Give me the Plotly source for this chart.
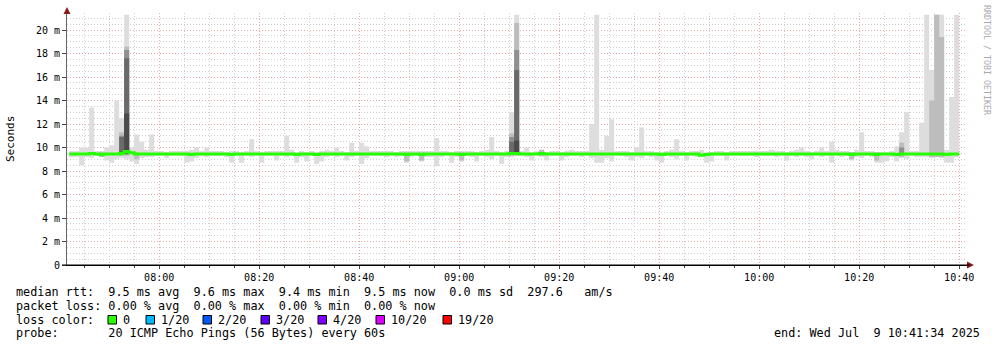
import plotly.graph_objects as go
from datetime import datetime, timedelta

# ---------------- data ----------------
first_minute = datetime(2025, 7, 9, 7, 42)      # first 60 s step starts here
range_start = "2025-07-09 07:41:34"
range_end = "2025-07-09 10:41:34"

# median rtt per minute (ms)
median = [
    9.45, 9.45, 9.45, 9.45, 9.5, 9.45, 9.4, 9.45, 9.45, 9.45,
    9.5, 9.65, 9.55, 9.45, 9.45, 9.45, 9.45, 9.45, 9.45, 9.45,
    9.45, 9.45, 9.45, 9.45, 9.4, 9.45, 9.45, 9.45, 9.45, 9.45,
    9.45, 9.45, 9.4, 9.45, 9.45, 9.45, 9.45, 9.45, 9.45, 9.45,
    9.45, 9.45, 9.45, 9.45, 9.45, 9.4, 9.45, 9.45, 9.45, 9.4,
    9.45, 9.45, 9.45, 9.45, 9.45, 9.45, 9.45, 9.45, 9.45, 9.45,
    9.45, 9.45, 9.45, 9.45, 9.45, 9.45, 9.45, 9.4, 9.45, 9.45,
    9.4, 9.45, 9.45, 9.45, 9.45, 9.45, 9.45, 9.45, 9.4, 9.45,
    9.45, 9.45, 9.45, 9.45, 9.45, 9.45, 9.45, 9.45, 9.5, 9.5,
    9.45, 9.45, 9.45, 9.45, 9.5, 9.45, 9.45, 9.45, 9.45, 9.45,
    9.45, 9.45, 9.45, 9.45, 9.45, 9.45, 9.45, 9.45, 9.45, 9.45,
    9.45, 9.45, 9.45, 9.45, 9.45, 9.45, 9.45, 9.45, 9.4, 9.45,
    9.45, 9.45, 9.45, 9.45, 9.45, 9.45, 9.35, 9.4, 9.45, 9.45,
    9.45, 9.45, 9.45, 9.45, 9.45, 9.45, 9.45, 9.45, 9.45, 9.45,
    9.45, 9.45, 9.45, 9.45, 9.45, 9.45, 9.45, 9.45, 9.45, 9.45,
    9.45, 9.45, 9.45, 9.45, 9.45, 9.45, 9.4, 9.45, 9.45, 9.45,
    9.45, 9.4, 9.45, 9.45, 9.45, 9.4, 9.45, 9.45, 9.45, 9.45,
    9.45, 9.45, 9.45, 9.45, 9.45, 9.4, 9.45, 9.45,
]

# outer smoke (min .. max of the 20 pings)
smoke_hi = [
    9.7, 9.7, 10.0, 10.0, 13.4, 9.7, 9.7, 10.0, 10.2, 14.0,
    12.5, 21.3, 10.0, 11.1, 10.5, 9.8, 11.1, 9.7, 9.7, 9.6,
    9.7, 9.7, 9.7, 9.7, 9.8, 10.0, 9.7, 10.0, 9.7, 9.7,
    9.7, 9.6, 9.7, 9.7, 9.6, 9.7, 10.7, 9.7, 9.6, 9.7,
    9.7, 9.7, 9.7, 11.0, 9.8, 9.6, 9.7, 9.6, 9.7, 9.6,
    9.7, 9.8, 9.7, 10.0, 9.7, 9.6, 10.4, 9.7, 10.4, 10.1,
    9.7, 9.7, 9.7, 9.7, 9.7, 9.6, 9.7, 9.7, 9.7, 9.7,
    9.7, 9.7, 9.7, 10.8, 9.7, 9.7, 9.6, 9.7, 9.7, 9.7,
    9.7, 9.6, 9.7, 9.8, 10.9, 9.7, 9.6, 9.7, 13.0, 21.3,
    9.7, 10.0, 9.6, 9.7, 9.7, 9.6, 9.7, 9.7, 9.6, 9.7,
    9.8, 9.7, 9.7, 9.7, 12.0, 21.3, 9.8, 11.0, 12.4, 9.7,
    9.7, 9.7, 9.6, 10.0, 11.7, 9.7, 9.7, 9.6, 9.6, 9.7,
    9.8, 10.7, 9.7, 9.6, 9.7, 9.7, 9.8, 9.6, 9.6, 9.7,
    9.7, 9.6, 9.7, 9.7, 9.7, 9.7, 9.7, 9.7, 9.7, 9.7,
    9.8, 9.7, 9.7, 9.6, 9.7, 9.8, 10.0, 9.7, 9.6, 9.7,
    10.0, 9.7, 10.5, 9.8, 9.7, 9.7, 9.6, 9.8, 11.3, 9.7,
    9.7, 9.6, 9.6, 9.6, 9.7, 10.1, 11.3, 13.0, 9.7, 9.7,
    12.1, 21.3, 16.6, 21.3, 21.3, 9.8, 14.3, 21.3,
]
smoke_lo = [
    9.2, 9.2, 8.5, 9.2, 9.1, 9.3, 9.2, 8.9, 8.7, 9.0,
    9.1, 9.0, 8.8, 8.6, 9.1, 9.2, 9.2, 9.3, 9.3, 9.1,
    9.3, 9.3, 9.3, 8.7, 8.8, 9.1, 9.3, 9.2, 9.3, 9.3,
    9.3, 9.2, 8.7, 9.3, 8.7, 9.3, 9.2, 9.3, 8.7, 9.3,
    9.3, 8.9, 9.3, 9.2, 9.3, 8.7, 9.2, 8.8, 9.3, 8.6,
    8.8, 9.2, 9.3, 9.2, 9.3, 8.9, 9.2, 9.3, 8.6, 9.1,
    9.3, 9.3, 9.3, 9.2, 9.3, 9.2, 9.3, 8.7, 9.2, 9.3,
    8.8, 9.2, 9.2, 8.4, 9.2, 9.3, 8.7, 9.2, 8.8, 9.3,
    9.2, 8.8, 9.3, 9.2, 9.0, 9.3, 8.6, 9.2, 9.2, 9.3,
    9.3, 9.2, 8.9, 9.3, 9.2, 8.9, 9.3, 9.3, 8.9, 9.2,
    9.3, 9.3, 9.2, 9.3, 9.1, 8.7, 8.7, 9.1, 8.8, 9.3,
    9.3, 9.2, 8.9, 9.2, 9.1, 9.3, 9.2, 8.9, 8.7, 9.3,
    9.2, 9.0, 9.3, 8.9, 9.3, 9.2, 9.2, 8.7, 8.8, 9.3,
    9.3, 8.9, 9.3, 9.3, 9.3, 9.3, 9.3, 9.2, 9.3, 9.3,
    9.3, 9.2, 9.3, 8.9, 9.3, 9.2, 9.3, 9.2, 9.0, 9.3,
    9.2, 9.3, 8.7, 9.3, 9.2, 9.3, 8.9, 9.2, 9.1, 9.3,
    9.2, 8.7, 8.7, 8.8, 9.2, 8.8, 9.1, 9.0, 9.3, 9.2,
    9.2, 9.2, 9.1, 9.2, 9.1, 8.7, 8.7, 9.2,
]

# inner smoke bands (minute index, low, high)
band2_idx = [6, 10, 11, 13, 67, 70, 78, 88, 89, 94, 156, 161, 166, 172, 173, 174]
band2_lo = [9.2, 9.3, 9.3, 9.0, 8.8, 8.9, 8.9, 9.3, 9.3, 9.3, 9.0, 8.9, 9.2, 9.2, 9.2, 9.2]
band2_hi = [9.6, 11.3, 18.6, 9.6, 9.6, 9.6, 9.6, 11.2, 20.6, 9.8, 9.6, 9.6, 10.4, 14.0, 21.3, 19.4]

band3_idx = [10, 11, 88, 89, 166]
band3_lo = [9.5, 9.4, 9.5, 9.5, 9.4]
band3_hi = [11.0, 18.3, 10.9, 18.3, 10.0]

band4_idx = [10, 11, 88, 89]
band4_lo = [9.5, 9.5, 9.5, 9.5]
band4_hi = [10.9, 17.6, 10.5, 16.6]

band5_idx = [11, 89]
band5_lo = [9.5, 9.5]
band5_hi = [12.9, 10.6]

y_tickvals = [0, 2, 4, 6, 8, 10, 12, 14, 16, 18, 20]
y_ticktext = ["0", "2 m", "4 m", "6 m", "8 m", "10 m", "12 m", "14 m", "16 m", "18 m", "20 m"]

loss_labels = ["0", "1/20", "2/20", "3/20", "4/20", "10/20", "19/20"]
loss_colors = ["#26ff00", "#00b8ff", "#0059ff", "#5e00ff", "#7e00ff", "#dd00ff", "#ff0000"]

line_rtt = "median rtt:  9.5 ms avg  9.6 ms max  9.4 ms min  9.5 ms now  0.0 ms sd  297.6   am/s"
line_loss = "packet loss: 0.00 % avg  0.00 % max  0.00 % min  0.00 % now"
line_color = "loss color:"
line_probe = "probe:       20 ICMP Echo Pings (56 Bytes) every 60s"
line_end = "end: Wed Jul  9 10:41:34 2025"
watermark = "RRDTOOL / TOBI OETIKER"

# ---------------- layout geometry (pixels) ----------------
W, H = 997, 347
L, R, T, B = 67, 30, 13, 82
PW, PH = W - L - R, H - T - B
MONO = "DejaVu Sans Mono"


def px(x):
    return (x - L) / PW


def py(y):
    return (H - B - y) / PH


def nb(s):
    return s.replace(" ", "\u00a0")


edges = [first_minute + timedelta(minutes=i) for i in range(len(median) + 1)]

fig = go.Figure()

# outer smoke as a stepped filled band
fig.add_trace(go.Scatter(x=edges, y=smoke_lo + [smoke_lo[-1]], mode="lines", line=dict(width=0, shape="hv"),
                         hoverinfo="skip", showlegend=False))
fig.add_trace(go.Scatter(x=edges, y=smoke_hi + [smoke_hi[-1]], mode="lines", line=dict(width=0, shape="hv"),
                         fill="tonexty", fillcolor="#dddddd", hoverinfo="skip", showlegend=False))


def band(idx, lo, hi, color):
    xs, ys = [], []
    for i, l, h in zip(idx, lo, hi):
        a = first_minute + timedelta(minutes=i)
        b = a + timedelta(minutes=1)
        xs += [a, b, b, a, a, None]
        ys += [l, l, h, h, l, None]
    return go.Scatter(x=xs, y=ys, mode="lines", fill="toself", fillcolor=color,
                      line=dict(width=0), hoverinfo="skip", showlegend=False)


fig.add_trace(band(band2_idx, band2_lo, band2_hi, "#bdbdbd"))
fig.add_trace(band(band3_idx, band3_lo, band3_hi, "#909090"))
fig.add_trace(band(band4_idx, band4_lo, band4_hi, "#6a6a6a"))
fig.add_trace(band(band5_idx, band5_lo, band5_hi, "#4a4a4a"))

fig.add_trace(go.Scatter(x=edges, y=median + [median[-1]], mode="lines",
                         line=dict(color=loss_colors[0], width=3, shape="hv"),
                         hoverinfo="skip", showlegend=False))

major_grid = "#e8a6a6"
minor_grid = "#cfcfcf"
dash = "1px,2px"

fig.update_layout(
    width=W, height=H, autosize=False,
    margin=dict(l=L, r=R, t=T, b=B),
    paper_bgcolor="white", plot_bgcolor="white",
    showlegend=False,
    xaxis=dict(
        type="date", range=[range_start, range_end],
        tick0="2025-07-09 08:00", dtick=20 * 60000, tickformat="%H:%M",
        showgrid=True, gridcolor=major_grid, griddash=dash, gridwidth=1,
        minor=dict(dtick=5 * 60000, tick0="2025-07-09 08:00", showgrid=True,
                   gridcolor=minor_grid, griddash=dash, ticks="outside", ticklen=2, tickcolor="#444"),
        ticks="outside", ticklen=3, tickcolor="#444",
        showline=True, linecolor="#000000", linewidth=1, zeroline=False,
        tickfont=dict(family=MONO, size=10, color="#000"),
        fixedrange=True,
    ),
    yaxis=dict(
        range=[0, PH / 11.75], tickmode="array", tickvals=y_tickvals, ticktext=y_ticktext,
        showgrid=True, gridcolor=major_grid, griddash=dash, gridwidth=1,
        minor=dict(tickmode="linear", tick0=0, dtick=0.5, showgrid=True, gridcolor=minor_grid, griddash=dash),
        ticks="outside", ticklen=4, tickcolor="#444",
        showline=True, linecolor="#666666", linewidth=1, zeroline=False,
        tickfont=dict(family=MONO, size=10, color="#000"),
        fixedrange=True,
    ),
)

ann = []
ann.append(dict(text="Seconds", x=px(10), y=py(139), xref="paper", yref="paper", textangle=-90,
                showarrow=False, font=dict(family=MONO, size=11, color="#000"),
                xanchor="center", yanchor="middle"))
ann.append(dict(text=nb(watermark), x=px(987), y=py(60), xref="paper", yref="paper", textangle=90,
                showarrow=False, font=dict(family=MONO, size=8.3, color="#aaaaaa"),
                xanchor="center", yanchor="middle"))
leg_font = dict(family=MONO, size=11.8, color="#000")
for txt, yc in [(line_rtt, 291.5), (line_loss, 305.5), (line_color, 319.5), (line_probe, 333.3)]:
    ann.append(dict(text=nb(txt), x=px(15), y=py(yc), xref="paper", yref="paper", showarrow=False,
                    font=leg_font, xanchor="left", yanchor="middle", borderpad=0))
ann.append(dict(text=nb(line_end), x=px(981), y=py(333.3), xref="paper", yref="paper", showarrow=False,
                font=leg_font, xanchor="right", yanchor="middle", borderpad=0))

square_left = [108, 146, 203, 261, 318, 376, 443]
shapes = []
for lab, col, sx in zip(loss_labels, loss_colors, square_left):
    shapes.append(dict(type="rect", xref="paper", yref="paper",
                       x0=px(sx), x1=px(sx + 8.5), y0=py(315.5), y1=py(324),
                       fillcolor=col, line=dict(color="#000", width=1), layer="above"))
    ann.append(dict(text=lab, x=px(sx + 14), y=py(319.5), xref="paper", yref="paper", showarrow=False,
                    font=leg_font, xanchor="left", yanchor="middle", borderpad=0))

# axis arrows
arrow_col = "#8b1a1a"
shapes.append(dict(type="path", xref="paper", yref="paper",
                   path=f"M {px(67)} {py(7)} L {px(63.5)} {py(14)} L {px(70.5)} {py(14)} Z",
                   fillcolor=arrow_col, line=dict(width=0), layer="above"))
shapes.append(dict(type="path", xref="paper", yref="paper",
                   path=f"M {px(974)} {py(265)} L {px(967)} {py(261.5)} L {px(967)} {py(268.5)} Z",
                   fillcolor=arrow_col, line=dict(width=0), layer="above"))
shapes.append(dict(type="line", xref="paper", yref="paper", x0=px(62), x1=px(970), y0=py(265), y1=py(265),
                   line=dict(color="#000", width=1), layer="above"))

fig.update_layout(annotations=ann, shapes=shapes)

fig.write_html("out.html")
